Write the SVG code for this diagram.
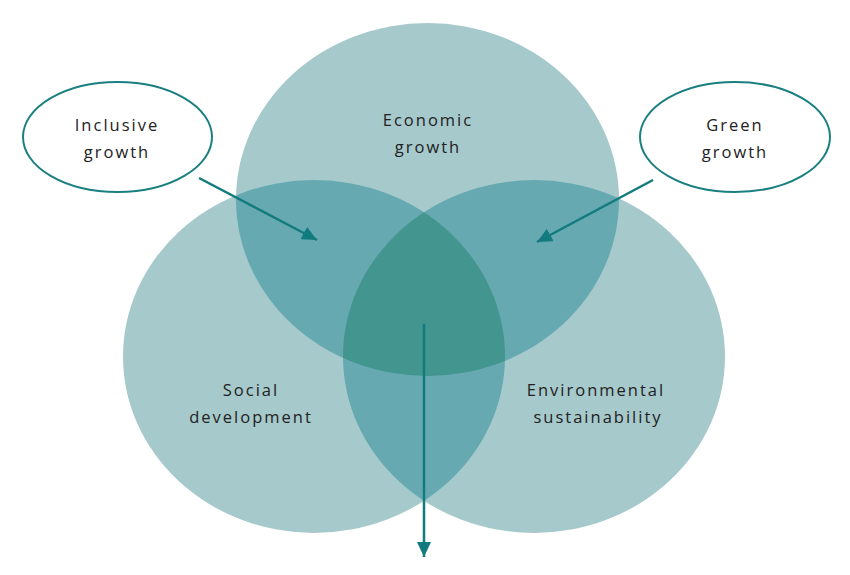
<svg xmlns="http://www.w3.org/2000/svg" width="850" height="575" viewBox="0 0 850 575">
<style>
.big{fill:#a6c9cc}
.two{fill:#66a9b0}
.three{fill:#42968f}
.lbl{font-family:"Open Sans","Liberation Sans",sans-serif;font-size:16.5px;letter-spacing:2px;fill:#222;text-anchor:middle}
.bubble{fill:#fff;stroke:#1a7f80;stroke-width:2}
.arr{stroke:#127b7e;stroke-width:2.5;fill:none;marker-end:url(#ah)}
</style>
<defs>
<marker id="ah" markerUnits="userSpaceOnUse" markerWidth="16" markerHeight="14" refX="15" refY="7" orient="auto">
<path d="M0,0 L15,7 L0,14 Z" fill="#127b7e"/>
</marker>
<clipPath id="cE"><ellipse cx="427.5" cy="199.5" rx="191.5" ry="176.5"/></clipPath>
<clipPath id="cS"><ellipse cx="314" cy="356.5" rx="191" ry="176.5"/></clipPath>
<clipPath id="cV"><ellipse cx="534" cy="356.5" rx="191" ry="176.5"/></clipPath>
</defs>
<rect width="850" height="575" fill="#fff"/>
<g id="economic">
<ellipse class="big" cx="427.5" cy="199.5" rx="191.5" ry="176.5"/>
<text class="lbl" x="428" y="126">Economic</text>
<text class="lbl" x="428" y="153">growth</text>
</g>
<g id="social">
<ellipse class="big" cx="314" cy="356.5" rx="191" ry="176.5"/>
<text class="lbl" x="251" y="396">Social</text>
<text class="lbl" x="251" y="423">development</text>
</g>
<g id="environmental">
<ellipse class="big" cx="534" cy="356.5" rx="191" ry="176.5"/>
<text class="lbl" x="596" y="396">Environmental</text>
<text class="lbl" x="598" y="423">sustainability</text>
</g>
<g id="overlaps">
<ellipse class="two" cx="314" cy="356.5" rx="191" ry="176.5" clip-path="url(#cE)"/>
<ellipse class="two" cx="534" cy="356.5" rx="191" ry="176.5" clip-path="url(#cE)"/>
<ellipse class="two" cx="534" cy="356.5" rx="191" ry="176.5" clip-path="url(#cS)"/>
<g clip-path="url(#cE)"><ellipse class="three" cx="534" cy="356.5" rx="191" ry="176.5" clip-path="url(#cS)"/></g>
</g>
<g id="inclusive">
<ellipse class="bubble" cx="117.5" cy="137" rx="94.5" ry="55"/>
<text class="lbl" x="117" y="131">Inclusive</text>
<text class="lbl" x="117" y="158">growth</text>
</g>
<g id="green">
<ellipse class="bubble" cx="735" cy="137" rx="95" ry="55"/>
<text class="lbl" x="735" y="131">Green</text>
<text class="lbl" x="735" y="158">growth</text>
</g>
<g id="connectors">
<line class="arr" x1="199" y1="178" x2="317" y2="240"/>
<line class="arr" x1="653" y1="180" x2="537" y2="242"/>
<line class="arr" x1="424" y1="324" x2="424" y2="557"/>
</g>
</svg>
